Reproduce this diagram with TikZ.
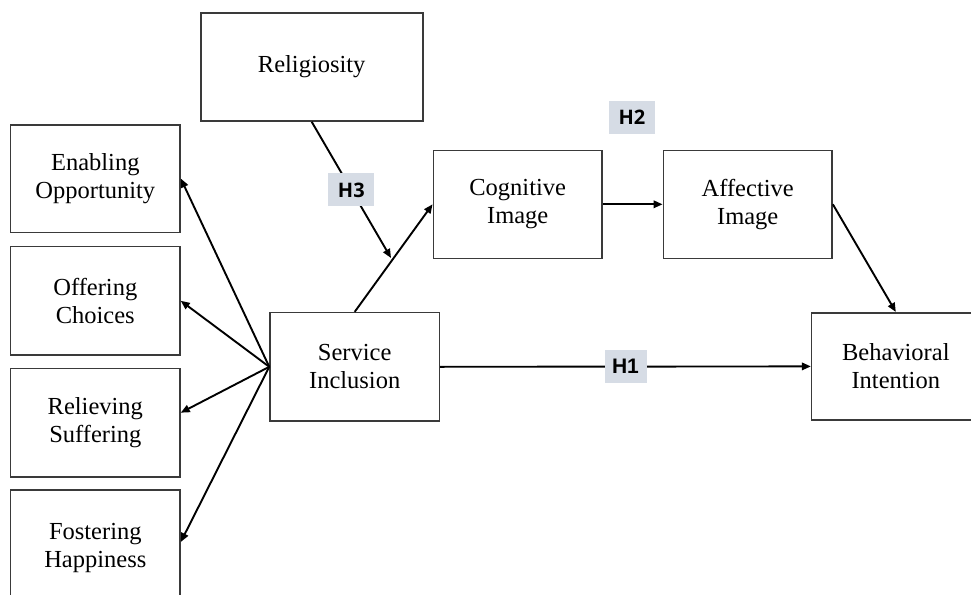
\documentclass[tikz,border=0pt]{standalone}
\usepackage{fontspec}
\setmainfont{Liberation Serif}
\newfontfamily\hypfont{Open Sans}
\newfontfamily\hypfontb{Liberation Sans}
\usetikzlibrary{arrows.meta}
\definecolor{boxline}{HTML}{3A3A3A}
\definecolor{hypfill}{HTML}{D6DCE5}
\begin{document}
\begin{tikzpicture}[x=1pt,y=-1pt,
  construct/.style={draw=boxline, line width=1.6pt, fill=white, align=center,
    inner sep=0pt, font=\fontsize{24.5}{28}\selectfont},
  link/.style={line width=1.9pt, -{Triangle[length=9pt,width=7.5pt]}},
  hyp/.style={fill=hypfill, inner sep=0pt, minimum width=46pt, minimum height=33pt,
    font=\hypfont\bfseries\fontsize{20}{22}\selectfont},
  hypb/.style={hyp, minimum width=42pt, font=\hypfontb\bfseries\fontsize{21}{23}\selectfont}]
\useasboundingbox (0,0) rectangle (971,594);
\begin{scope}
\clip (0,0) rectangle (971,594);
% constructs
\node[construct, minimum width=222pt, minimum height=108pt] (rel) at (311.7,67) {Religiosity};
\node[construct, minimum width=169.3pt, minimum height=107.6pt] (en) at (95.3,178.5) {Enabling\\Opportunity};
\node[construct, minimum width=169.3pt, minimum height=108.3pt] (of) at (95.3,300.8) {Offering\\Choices};
\node[construct, minimum width=169.3pt, minimum height=108.7pt] (re) at (95.3,422.7) {Relieving\\Suffering};
\node[construct, minimum width=169.3pt, minimum height=116pt] (fo) at (95.3,548) {Fostering\\Happiness};
\node[construct, minimum width=169.3pt, minimum height=108.3pt] (si) at (354.7,366.8) {Service\\Inclusion};
\node[construct, minimum width=168.7pt, minimum height=108pt] (cog) at (517.7,204.3) {Cognitive\\Image};
\node[construct, minimum width=168.7pt, minimum height=108pt] (aff) at (747.7,204.3) {Affective\\Image};
\node[construct, minimum width=168.3pt, minimum height=107.3pt] (beh) at (895.8,366.4) {Behavioral\\Intention};
% dimensions of service inclusion
\draw[link] (si.west) -- (en.east);
\draw[link] (si.west) -- (of.east);
\draw[link] (si.west) -- ([yshift=10pt]re.east);
\draw[link] (si.west) -- ([yshift=6pt]fo.east);
% structural paths
\draw[link] (si.north) -- (cog.west);
\draw[link] (cog.east) -- (aff.west);
\draw[link] (aff.east) -- (beh.north);
\draw[link] (si.east) -- node[hypb] (h1) {H1} (beh.west);
% moderation by religiosity
\coordinate (mod) at (391,258);
\draw[link] (rel.south) -- node[hyp] (h3) {H3} (mod);
\node[hyp] (h2) at (632,117.5) {H2};
\end{scope}
\end{tikzpicture}
\end{document}
